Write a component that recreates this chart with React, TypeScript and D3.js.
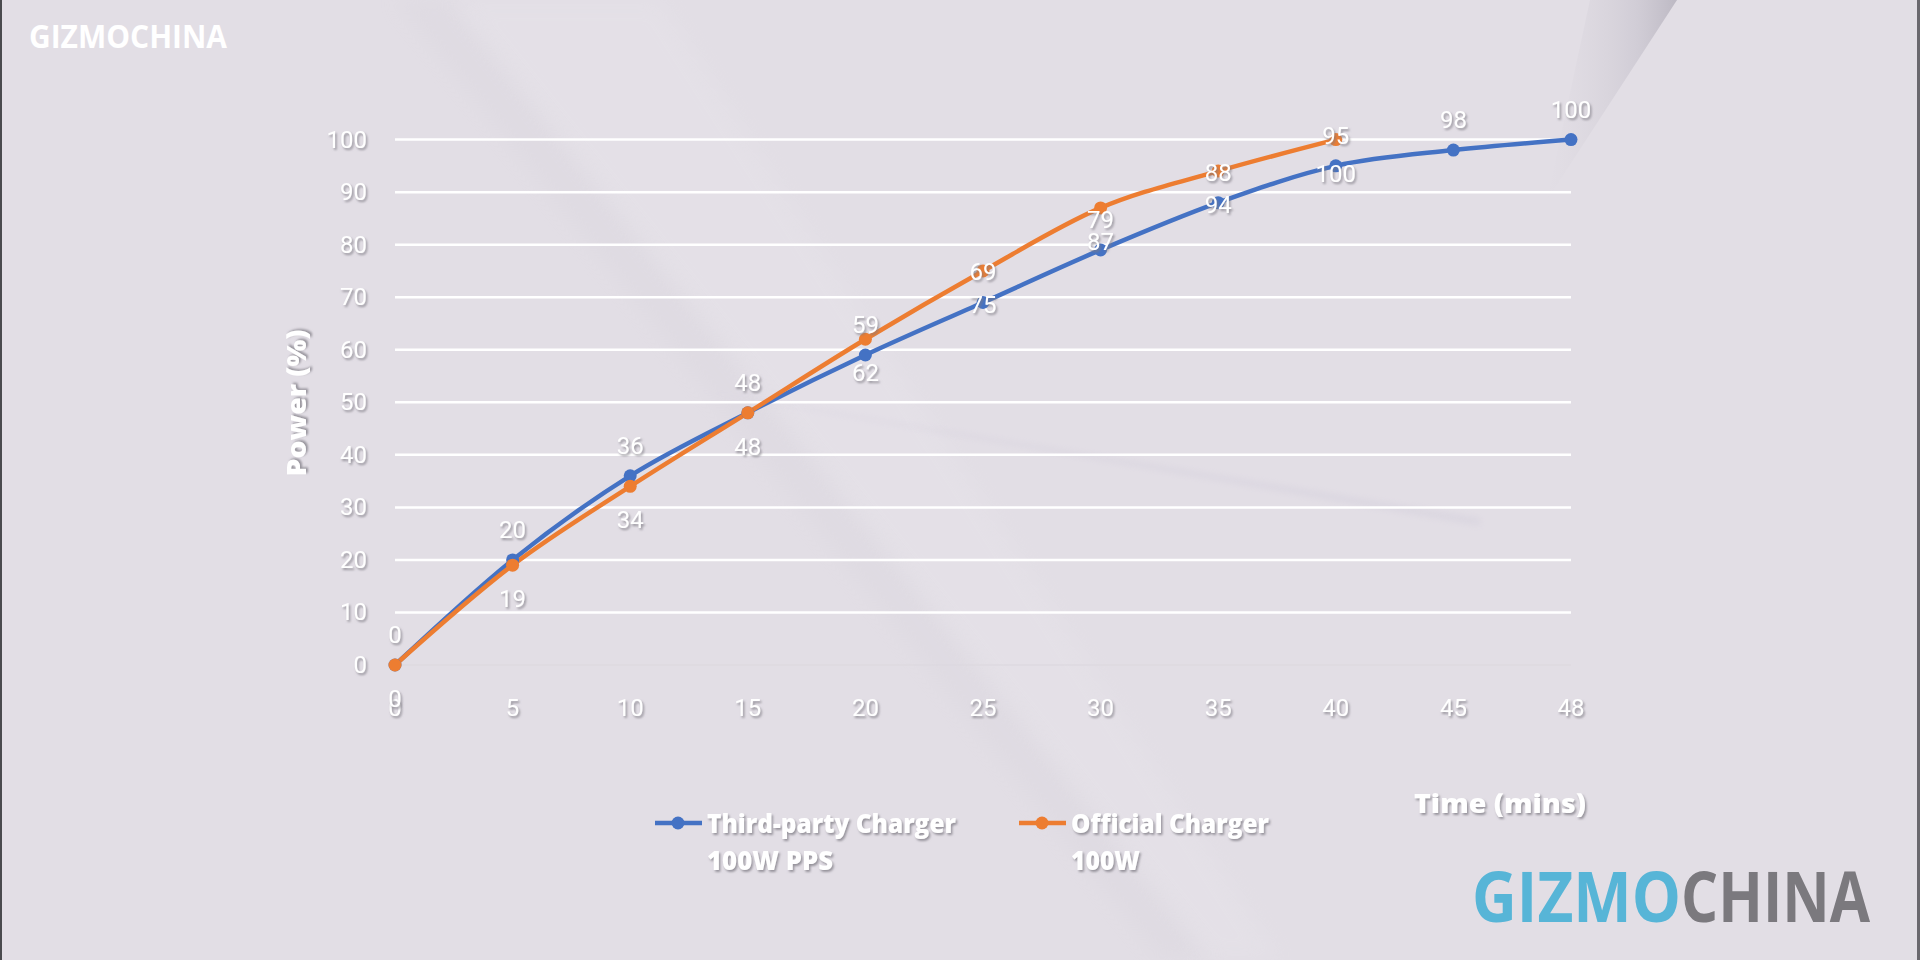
import React from "react";
import * as d3 from "d3";

const timeLabels = ["0", "5", "10", "15", "20", "25", "30", "35", "40", "45", "48"];
const thirdParty = [0, 20, 36, 48, 59, 69, 79, 88, 95, 98, 100];
const official = [0, 19, 34, 48, 62, 75, 87, 94, 100];
const yTicks = [0, 10, 20, 30, 40, 50, 60, 70, 80, 90, 100];
const seriesNames = [["Third-party Charger", "100W PPS"], ["Official Charger", "100W"]];

const BLUE = "#4472C4";
const ORANGE = "#ED7D31";
const BG = "#E2DEE5";

export default function App() {
  const W = 1920, H = 960;
  const x = d3.scalePoint<string>().domain(timeLabels).range([395, 1571]);
  const y = d3.scaleLinear().domain([0, 100]).range([665, 139.6]);

  const bluePts = thirdParty.map((v, i) => [x(timeLabels[i]) as number, y(v)] as [number, number]);
  const orangePts = official.map((v, i) => [x(timeLabels[i]) as number, y(v)] as [number, number]);
  const blueLine = d3.line().curve(d3.curveMonotoneX)(bluePts) || "";
  const orangeLine = d3.line().curve(d3.curveMonotoneX)(orangePts) || "";

  const labelFont = "Roboto, 'Noto Sans', sans-serif";
  const boldFont = "'Open Sans', 'Noto Sans', sans-serif";

  return (
    <div style={{ position: "fixed", left: 0, top: 0, width: W, height: H, overflow: "hidden" }}>
      <svg width={W} height={H} viewBox={`0 0 ${W} ${H}`} style={{ display: "block" }}>
        <defs>
          <filter id="ts" x="-20%" y="-30%" width="150%" height="170%">
            <feDropShadow dx="1.5" dy="2" stdDeviation="1.2" floodColor="#7d7a82" floodOpacity="0.75" />
          </filter>
          <filter id="gs" x="-5%" y="-200%" width="110%" height="500%">
            <feGaussianBlur stdDeviation="2.5" />
          </filter>
          <filter id="blur8"><feGaussianBlur stdDeviation="10" /></filter>
          <filter id="blur3"><feGaussianBlur stdDeviation="3" /></filter>
          <linearGradient id="wedge" x1="0" y1="0" x2="1" y2="0">
            <stop offset="0" stopColor="#d8d4dc" stopOpacity="0" />
            <stop offset="0.7" stopColor="#c9c5cf" stopOpacity="0.7" />
            <stop offset="1" stopColor="#b9b5c0" stopOpacity="0.9" />
          </linearGradient>
        </defs>

        {/* background */}
        <rect x={0} y={0} width={W} height={H} fill={BG} />
        <polygon points="395,0 450,0 1210,960 1160,960" fill="#d6d2da" opacity={0.25} filter="url(#blur8)" />
        <polygon points="450,0 660,0 1280,960 1210,960" fill="#e8e5eb" opacity={0.35} filter="url(#blur8)" />
        <polygon points="684,388 1480,518 1480,526" fill="#d2cedb" opacity={0.45} filter="url(#blur3)" />
        <polygon points="1590,0 1677,0 1547,200" fill="url(#wedge)" />
        <rect x={0} y={0} width={2} height={H} fill="#4a4a4e" />
        <rect x={1917} y={0} width={3} height={H} fill="#6a686e" />

        {/* gridlines */}
        {yTicks.map((t) => (
          <g key={"g" + t}>
            {t > 0 && (
              <line x1={398} x2={1575} y1={y(t) + 5} y2={y(t) + 5} stroke="#b8b4bd" strokeWidth={4} opacity={0.6} filter="url(#gs)" />
            )}
            <line x1={395} x2={1571} y1={y(t)} y2={y(t)} stroke={t > 0 ? "#ffffff" : "#dcd8df"} strokeWidth={t > 0 ? 2.5 : 1.5} opacity={t > 0 ? 1 : 0.8} />
          </g>
        ))}

        {/* y tick labels */}
        {yTicks.map((t) => (
          <text key={"yl" + t} x={367} y={y(t)} textAnchor="end" dominantBaseline="central" fill="#ffffff" fontFamily={labelFont} fontSize={24} filter="url(#ts)">{t}</text>
        ))}

        {/* x tick labels */}
        {timeLabels.map((t) => (
          <text key={"xl" + t} x={x(t)} y={708} textAnchor="middle" dominantBaseline="central" fill="#ffffff" fontFamily={labelFont} fontSize={24} filter="url(#ts)">{t}</text>
        ))}

        {/* axis titles */}
        <text x={296} y={403} transform="rotate(-90 296 403)" textAnchor="middle" dominantBaseline="central" fill="#ffffff" fontFamily={boldFont} fontWeight={800} fontSize={26} textLength={147} lengthAdjust="spacingAndGlyphs" filter="url(#ts)">Power (%)</text>
        <text x={1500} y={803} textAnchor="middle" dominantBaseline="central" fill="#ffffff" fontFamily={boldFont} fontWeight={800} fontSize={26} textLength={172} lengthAdjust="spacingAndGlyphs" filter="url(#ts)">Time (mins)</text>

        {/* series */}
        <path d={blueLine} fill="none" stroke={BLUE} strokeWidth={4.5} strokeLinejoin="round" />
        <path d={orangeLine} fill="none" stroke={ORANGE} strokeWidth={4.5} strokeLinejoin="round" />
        {bluePts.map((p, i) => (
          <circle key={"bp" + i} cx={p[0]} cy={p[1]} r={6.5} fill={BLUE} />
        ))}
        {orangePts.map((p, i) => (
          <circle key={"op" + i} cx={p[0]} cy={p[1]} r={6.5} fill={ORANGE} />
        ))}

        {/* data labels */}
        {thirdParty.map((v, i) => (
          <text key={"bl" + i} x={x(timeLabels[i])} y={y(v) - 30} textAnchor="middle" dominantBaseline="central" fill="#ffffff" fontFamily={labelFont} fontSize={24} filter="url(#ts)">{v}</text>
        ))}
        {official.map((v, i) => (
          <text key={"ol" + i} x={x(timeLabels[i])} y={y(v) + 34} textAnchor="middle" dominantBaseline="central" fill="#ffffff" fontFamily={labelFont} fontSize={24} filter="url(#ts)">{v}</text>
        ))}

        {/* legend */}
        <line x1={655} x2={702} y1={823} y2={823} stroke={BLUE} strokeWidth={4.5} />
        <circle cx={678} cy={823} r={6.5} fill={BLUE} />
        <text x={707} y={823} dominantBaseline="central" fill="#ffffff" fontFamily={boldFont} fontWeight={800} fontSize={26} textLength={249} lengthAdjust="spacingAndGlyphs" filter="url(#ts)">{seriesNames[0][0]}</text>
        <text x={707} y={860} dominantBaseline="central" fill="#ffffff" fontFamily={boldFont} fontWeight={800} fontSize={26} textLength={126} lengthAdjust="spacingAndGlyphs" filter="url(#ts)">{seriesNames[0][1]}</text>

        <line x1={1019} x2={1066} y1={823} y2={823} stroke={ORANGE} strokeWidth={4.5} />
        <circle cx={1042} cy={823} r={6.5} fill={ORANGE} />
        <text x={1071} y={823} dominantBaseline="central" fill="#ffffff" fontFamily={boldFont} fontWeight={800} fontSize={26} textLength={198} lengthAdjust="spacingAndGlyphs" filter="url(#ts)">{seriesNames[1][0]}</text>
        <text x={1071} y={860} dominantBaseline="central" fill="#ffffff" fontFamily={boldFont} fontWeight={800} fontSize={26} textLength={69} lengthAdjust="spacingAndGlyphs" filter="url(#ts)">{seriesNames[1][1]}</text>

        {/* watermarks */}
        <text x={29} y={48} fill="#ffffff" fontFamily={boldFont} fontWeight={700} fontSize={32} textLength={198} lengthAdjust="spacingAndGlyphs">GIZMOCHINA</text>
        <text x={1472} y={922} fill="#57B5D7" fontFamily={boldFont} fontWeight={700} fontSize={70} textLength={209} lengthAdjust="spacingAndGlyphs">GIZMO</text>
        <text x={1681} y={922} fill="#7B797E" fontFamily={boldFont} fontWeight={700} fontSize={70} textLength={189} lengthAdjust="spacingAndGlyphs">CHINA</text>
      </svg>
    </div>
  );
}
